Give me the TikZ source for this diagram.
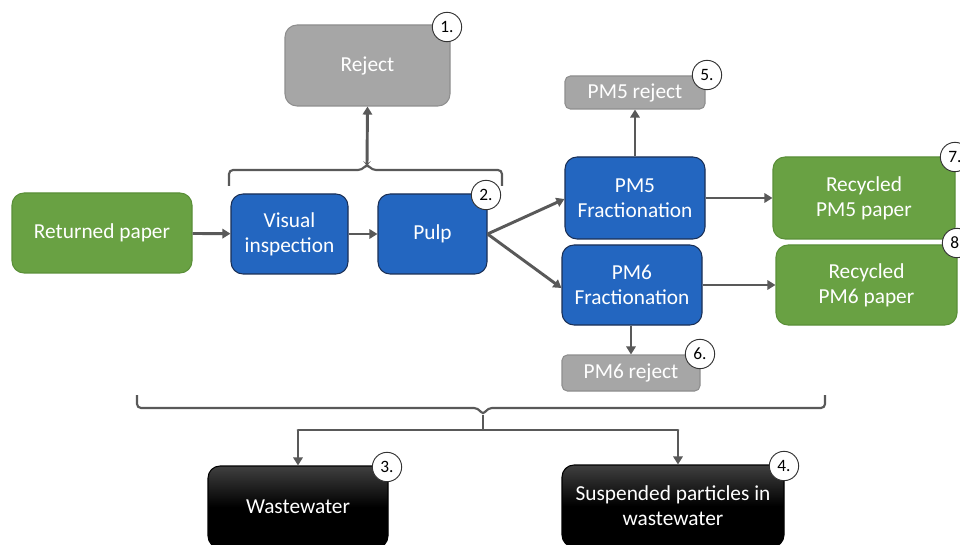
\documentclass[tikz,border=0pt]{standalone}
\usepackage{fontspec}
\setmainfont{Carlito}
\usetikzlibrary{arrows.meta,calc}
\definecolor{gfill}{HTML}{69A143}
\definecolor{gline}{HTML}{5A8F38}
\definecolor{bfill}{HTML}{2366C0}
\definecolor{bline}{HTML}{1A2F55}
\definecolor{rfill}{HTML}{A6A6A6}
\definecolor{rline}{HTML}{8E8E8E}
\definecolor{arr}{HTML}{595959}
\tikzset{
  box/.style={rounded corners=9pt, draw, line width=0.8pt, align=center, text=white,
    font=\fontsize{16}{18.5}\selectfont, inner sep=2pt},
  greenbox/.style={box, fill=gfill, draw=gline},
  bluebox/.style={box, fill=bfill, draw=bline},
  graybox/.style={box, fill=rfill, draw=rline},
  smallgray/.style={graybox, rounded corners=4pt},
  blackbox/.style={box, draw=black, top color=black!75, bottom color=black, middle color=black},
  num/.style={circle, draw=black!80, fill=white, line width=0.7pt, minimum size=22pt, inner sep=0pt,
    font=\fontsize{13}{14}\selectfont, text=black},
  flow/.style={draw=arr, line width=2.2pt, -{Triangle[length=6pt,width=7pt]}},
  brace/.style={draw=arr, line width=1.6pt, rounded corners=3pt},
  plain/.style={draw=arr, line width=2.2pt}
}
\begin{document}
\begin{tikzpicture}[x=0.75pt,y=-0.75pt]
\useasboundingbox (0,0) rectangle (960,545);
\clip (0,0) rectangle (960,545);
\fill[white] (0,0) rectangle (960,545);
% nodes
\node[greenbox, minimum width=135pt, minimum height=60pt] (ret) at (102,233) {Returned paper};
\node[bluebox, minimum width=87.75pt, minimum height=60pt] (vis) at (289.5,234) {Visual\\inspection};
\node[bluebox, minimum width=81.75pt, minimum height=60pt] (pulp) at (432.5,234) {Pulp};
\node[graybox, minimum width=123.75pt, minimum height=60.75pt] (rej) at (367.5,65.5) {Reject};
\node[smallgray, minimum width=105pt, minimum height=24.75pt] (pm5r) at (635,92.5) {PM5 reject};
\node[bluebox, minimum width=105pt, minimum height=61.5pt] (pm5) at (635,198) {PM5\\Fractionation};
\node[bluebox, minimum width=105pt, minimum height=60pt] (pm6) at (632,285) {PM6\\Fractionation};
\node[smallgray, minimum width=103.5pt, minimum height=27pt] (pm6r) at (631,373) {PM6 reject};
\node[greenbox, minimum width=136.5pt, minimum height=61.5pt] (rec5) at (864,198) {Recycled\\PM5 paper};
\node[greenbox, minimum width=135.75pt, minimum height=60pt] (rec6) at (866.5,285) {Recycled\\PM6 paper};
\node[blackbox, minimum width=135pt, minimum height=61.5pt] (ww) at (298,507) {Wastewater};
\node[blackbox, minimum width=166.5pt, minimum height=61.5pt] (sp) at (673,506) {Suspended particles in\\wastewater};
% number circles
\node[num] (n1) at (447,27) {1.};
\node[num] (n2) at (486,195) {2.};
\node[num] (n3) at (387,467) {3.};
\node[num] (n4) at (784,466) {4.};
\node[num] (n5) at (707,75) {5.};
\node[num] (n6) at (700,354) {6.};
\node[num] (n7) at (955,157) {7.};
\node[num] (n8) at (957,243) {8.};
% main flow
\draw[flow] (ret) -- (vis);
\draw[flow] (vis) -- (pulp);
\draw[flow] (pulp.east) -- (pm5.west |- 0,199);
\draw[flow] (pulp.east) -- (pm6.west |- 0,288);
\draw[flow] (pm5.east) -- (rec5.west);
\draw[flow] (pm6.east) -- (rec6.west);
\draw[flow] (pm5.north) -- (pm5r.south);
\draw[flow] (pm6.south -| pm6r.north) -- (pm6r.north);
% top brace
\coordinate (tb) at (367,164);
\draw[brace] (229,186) -- (229,170) -- (362,170) -- (tb) -- (372,170) -- (502,170) -- (502,186);
\draw[flow] (tb) -- (rej.south);
% bottom brace
\coordinate (bb) at (483,415);
\coordinate (bj) at (483,430);
\coordinate (bl) at (298,430);
\coordinate (br) at (678,430);
\draw[brace] (137,395) -- (137,408) -- (478,408) -- (bb) -- (488,408) -- (825,408) -- (825,395);
\draw[plain] (bb) -- (bj);
\draw[plain, line cap=round] (bl) -- (br);
\draw[flow] (bl) -- (ww.north -| bl);
\draw[flow] (br) -- (sp.north -| br);
\end{tikzpicture}
\end{document}
